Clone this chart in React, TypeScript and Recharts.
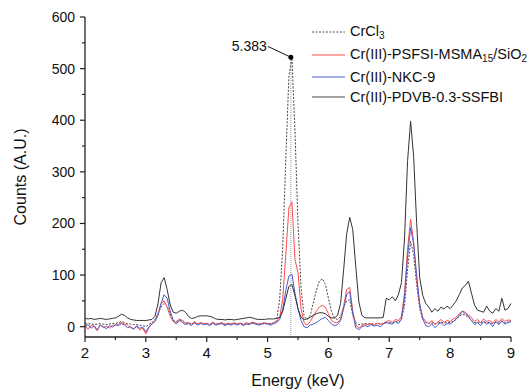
import React from "react";
import { LineChart, Line, XAxis, YAxis, ReferenceLine, ReferenceDot, Legend } from "recharts";

// EDX spectra, sampled every 0.05 keV from 2 to 9 keV
const energy = Array.from({ length: 141 }, (_, i) => Math.round((2 + i * 0.05) * 100) / 100);

const crcl3 = [
  6, 5, 6, 4, 5, 6, 5, 4, 5, 6,
  6, 8, 10, 8, 6, 5, 4, 4, 3, 2,
  0, 4, 8, 14, 25, 38, 45, 40, 25, 12,
  10, 13, 12, 8, 7, 6, 7, 6, 7, 6,
  6, 5, 6, 5, 6, 6, 5, 6, 5, 6,
  5, 6, 5, 6, 6, 7, 6, 5, 6, 6,
  6, 6, 7, 12, 55, 155, 325, 485, 521, 380,
  200, 75, 20, 14, 22, 45, 70, 88, 93, 82,
  55, 30, 16, 14, 20, 38, 50, 52, 22, 8,
  4, 5, 6, 5, 6, 5, 6, 5, 6, 8,
  8, 7, 10, 9, 14, 40, 110, 165, 140, 80,
  35, 14, 8, 6, 8, 5, 7, 9, 7, 8,
  8, 10, 14, 20, 24, 22, 18, 12, 8, 9,
  7, 9, 8, 8, 6, 9, 7, 10, 7, 9,
  9,
];

const psfsi = [
  2, -5, 3, 0, -8, 4, -2, 1, -3, 3,
  2, 5, 8, 5, 3, -2, -4, 0, -6, -3,
  -14, -2, 6, 12, 25, 45, 50, 38, 20, 10,
  8, 15, 12, 5, 8, 4, 10, 5, 8, 6,
  7, 4, 9, 5, 6, 8, 4, 7, 5, 8,
  5, 7, 4, 8, 6, 9, 7, 5, 6, 8,
  6, 5, 8, 10, 18, 55, 140, 230, 242, 130,
  105, 35, 8, 3, 10, 20, 30, 38, 41, 38,
  25, 12, 8, 8, 15, 40, 72, 76, 30, 4,
  -3, 2, 5, 4, 6, 3, 7, 5, 6, 10,
  12, 8, 14, 12, 20, 65, 150, 208, 165, 90,
  40, 18, 10, 6, 12, 5, 9, 14, 8, 12,
  10, 15, 18, 25, 30, 28, 22, 18, 10, 14,
  8, 15, 10, 12, 7, 14, 9, 16, 10, 13,
  12,
];

const nkc9 = [
  0, 4, -3, 2, -6, 3, 0, -4, 2, -1,
  4, 2, 6, 3, -2, 0, -5, 2, -3, -1,
  -10, 0, 5, 10, 22, 45, 62, 55, 30, 12,
  5, 12, 8, 4, 6, 2, 8, 3, 6, 4,
  5, 2, 7, 3, 5, 6, 2, 5, 3, 6,
  3, 6, 2, 5, 4, 7, 5, 3, 5, 6,
  5, 3, 6, 8, 14, 35, 70, 98, 102, 65,
  35, 12, 0, -2, 3, 5, 8, 12, 16, 18,
  12, 5, 2, 4, 12, 35, 62, 68, 25, -2,
  -6, 0, 2, 0, 4, 1, 3, 0, 5, 8,
  6, 5, 10, 6, 15, 55, 135, 192, 160, 100,
  45, 15, 2, 0, 6, -2, 4, 8, 2, 6,
  5, 10, 15, 22, 30, 25, 20, 12, 4, 8,
  2, 10, 5, 8, 0, 10, 4, 12, 5, 8,
  10,
];

const pdvb = [
  16, 15, 16, 14, 15, 16, 15, 14, 15, 16,
  17, 20, 24, 22, 17, 14, 13, 12, 12, 12,
  12, 13, 14, 20, 45, 85, 95, 72, 42, 28,
  26, 30, 32, 28, 20, 16, 17, 20, 21, 21,
  21, 20, 18, 15, 14, 14, 13, 14, 14, 13,
  14, 15, 16, 17, 18, 17, 15, 14, 14, 14,
  15, 15, 15, 16, 18, 30, 55, 78, 82, 60,
  35, 18, 14, 15, 18, 22, 25, 27, 27, 25,
  20, 17, 17, 22, 45, 110, 180, 212, 188, 115,
  48, 22, 17, 17, 17, 17, 17, 17, 18, 55,
  52, 58, 50, 62, 85, 170, 320, 398, 330, 200,
  95, 60, 45, 38, 28, 35, 30, 38, 34, 40,
  35, 42, 50, 62, 75, 80, 88, 65, 42, 32,
  30, 28, 40, 30, 26, 35, 30, 55, 32, 35,
  45,
];

const xTicks = [2, 2.5, 3, 3.5, 4, 4.5, 5, 5.5, 6, 6.5, 7, 7.5, 8, 8.5, 9];
const yTicks = [0, 50, 100, 150, 200, 250, 300, 350, 400, 450, 500, 550, 600];

const peakEnergy = 5.383;
const peakCounts = 522;
const peakLabelAt = { x: 5.005, y: 543 };

const data = energy.map((e, i) => ({
  energy: e,
  crcl3: crcl3[i],
  psfsi: psfsi[i],
  nkc9: nkc9[i],
  pdvb: pdvb[i],
}));

const FONT = "Arial, 'Liberation Sans', sans-serif";
const AXIS = "#222";

const XTick = (props: any) => {
  const { x, y, payload } = props;
  const major = Number.isInteger(payload.value);
  const axisY = y - 7;
  return (
    <g>
      <line x1={x} x2={x} y1={axisY} y2={axisY + (major ? 5 : 3)} stroke={AXIS} strokeWidth={1.2} />
      {major && (
        <text x={x} y={y} dy={14} textAnchor="middle" fontSize={15} fontFamily={FONT} fill="#111">
          {payload.value}
        </text>
      )}
    </g>
  );
};

const YTick = (props: any) => {
  const { x, y, payload } = props;
  const major = payload.value % 100 === 0;
  const axisX = x + 10;
  return (
    <g>
      <line x1={axisX - (major ? 5 : 3)} x2={axisX} y1={y} y2={y} stroke={AXIS} strokeWidth={1.2} />
      {major && (
        <text x={x} y={y} dy="0.36em" textAnchor="end" fontSize={14} fontFamily={FONT} fill="#111">
          {payload.value}
        </text>
      )}
    </g>
  );
};

const sub = { fontSize: 10, verticalAlign: "-0.3em" } as const;

const legendItems = [
  { key: "crcl3", color: "#555", dash: "2 1.5", label: <>CrCl<span style={sub}>3</span></>, h: 22 },
  { key: "psfsi", color: "#ff4a4a", dash: undefined, label: <>Cr(III)-PSFSI-MSMA<span style={sub}>15</span>/SiO<span style={sub}>2</span></>, h: 24 },
  { key: "nkc9", color: "#4a5cd0", dash: undefined, label: <>Cr(III)-NKC-9</>, h: 20 },
  { key: "pdvb", color: "#444", dash: undefined, label: <>Cr(III)-PDVB-0.3-SSFBI</>, h: 20 },
];

const renderLegend = () => (
  <div style={{ fontFamily: FONT, fontSize: 14.5, color: "#111", whiteSpace: "nowrap" }}>
    {legendItems.map((it) => (
      <div key={it.key} style={{ height: it.h, display: "flex", alignItems: "center" }}>
        <svg width={38} height={4} style={{ flex: "none" }}>
          <line x1={0} x2={33} y1={2} y2={2} stroke={it.color} strokeWidth={1} strokeDasharray={it.dash} />
        </svg>
        <span style={{ lineHeight: 1 }}>{it.label}</span>
      </div>
    ))}
  </div>
);

export default function App() {
  return (
    <div style={{ position: "absolute", left: 0, top: 0, width: 528, height: 389, background: "#fff", overflow: "hidden" }}>
      <LineChart width={528} height={389} data={data} margin={{ top: 17, right: 17, bottom: 22, left: 0 }}>
        <XAxis
          dataKey="energy"
          type="number"
          domain={[2, 9]}
          ticks={xTicks}
          interval={0}
          height={30}
          tickSize={5}
          tickMargin={2}
          tickLine={false}
          tick={<XTick />}
          axisLine={{ stroke: AXIS, strokeWidth: 1.3 }}
          label={{ value: "Energy (keV)", position: "bottom", offset: 8, fontSize: 16, fontFamily: FONT, fill: "#111" }}
        />
        <YAxis
          type="number"
          domain={[-20, 600]}
          ticks={yTicks}
          interval={0}
          width={85}
          tickSize={5}
          tickMargin={5}
          tickLine={false}
          tick={<YTick />}
          axisLine={{ stroke: AXIS, strokeWidth: 1.3 }}
          label={{ value: "Counts (A.U.)", angle: -90, position: "center", dx: -22, fontSize: 16, fontFamily: FONT, fill: "#111" }}
        />
        <Legend
          layout="vertical"
          align="center"
          verticalAlign="middle"
          content={renderLegend}
          wrapperStyle={{ position: "absolute", left: 312, top: 21, width: 216 }}
        />
        <ReferenceLine
          segment={[{ x: peakEnergy, y: -20 }, { x: peakEnergy, y: peakCounts }]}
          stroke="#999"
          strokeDasharray="1 1"
          strokeWidth={1}
        />
        <Line dataKey="crcl3" type="linear" stroke="#444" strokeWidth={1} strokeDasharray="2 1.5" dot={false} isAnimationActive={false} />
        <Line dataKey="psfsi" type="linear" stroke="#ff4a4a" strokeWidth={1} dot={false} isAnimationActive={false} />
        <Line dataKey="nkc9" type="linear" stroke="#4a5cd0" strokeWidth={1} dot={false} isAnimationActive={false} />
        <Line dataKey="pdvb" type="linear" stroke="#333" strokeWidth={1} dot={false} isAnimationActive={false} />
        <ReferenceLine
          segment={[{ x: peakLabelAt.x, y: peakLabelAt.y }, { x: peakEnergy, y: peakCounts }]}
          stroke="#111"
          strokeWidth={1}
        />
        <ReferenceDot
          x={peakLabelAt.x}
          y={peakLabelAt.y}
          r={0}
          stroke="none"
          label={{ value: String(peakEnergy), position: "left", offset: 1, fontSize: 14, fontFamily: FONT, fill: "#111" }}
        />
        <ReferenceDot x={peakEnergy} y={peakCounts} r={2.5} fill="#000" stroke="none" />
      </LineChart>
    </div>
  );
}
